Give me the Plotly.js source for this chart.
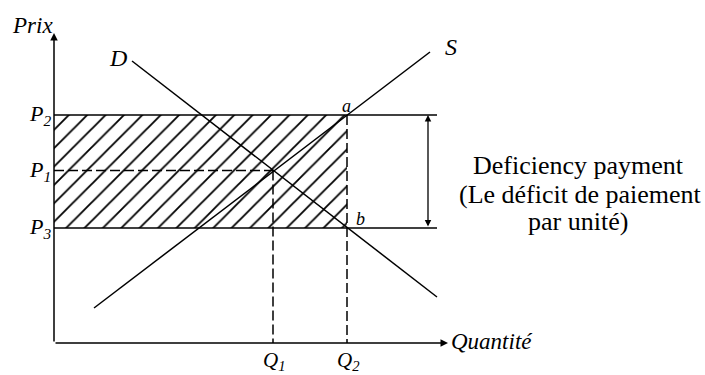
<!DOCTYPE html>
<html>
<head>
<meta charset="utf-8">
<script src="https://cdn.plot.ly/plotly-3.0.1.min.js"></script>
<style>
  html, body { margin: 0; padding: 0; background: #fff; }
  #chart { width: 705px; height: 375px; }
</style>
</head>
<body>
<div id="chart"></div>
<script>
// price levels (P2 support price, P1 equilibrium, P3 market price)
const priceLabels = ["P<sub>2</sub>", "P<sub>1</sub>", "P<sub>3</sub>"];
const priceValues = [22.8, 17.25, 11.5];

// quantities
const qtyLabels = ["Q<sub>1</sub>", "Q<sub>2</sub>"];
const qtyValues = [21.9, 29.3];

// demand and supply curves
const demandX = [7.8, 38.3];
const demandY = [28.2, 4.6];
const supplyX = [4.0, 37.6];
const supplyY = [3.5, 29.1];

// axis ends and bracket
const xAxisEnd = 39.4;
const yAxisEnd = 31.0;
const boundEnd = 38.3;
const bracketX = 37.4;

const P2 = priceValues[0], P1 = priceValues[1], P3 = priceValues[2];
const Q1 = qtyValues[0], Q2 = qtyValues[1];

const FONT = "Liberation Serif, Times New Roman, serif";
const black = "#000";
const dash = "10px,4px";

function seg(x, y, dashed) {
    return {
        x: x, y: y, mode: "lines", type: "scatter", hoverinfo: "skip",
        line: { color: black, width: 1.5, dash: dashed ? dash : "solid" },
        showlegend: false,
    };
}

let traces = [
    // hatched area
    {
        x: [0, Q2, Q2, 0, 0],
        y: [P3, P3, P2, P2, P3],
        type: "scatter", mode: "none", fill: "toself",
        fillcolor: "rgba(0,0,0,0)",
        fillpattern: { shape: "/", size: 13, solidity: 0.14, fgcolor: black, bgcolor: "#fff" },
        hoverinfo: "skip", showlegend: false,
    },
    seg([0, boundEnd], [P2, P2], false),
    seg([0, boundEnd], [P3, P3], false),
    seg([0, Q1], [P1, P1], true),
    seg([Q1, Q1], [P1, 0], true),
    seg([Q2, Q2], [P2, 0], true),
    seg(demandX, demandY, false),
    seg(supplyX, supplyY, false),
];

function label(text, x, y, size, opts) {
    return Object.assign({
        text: text, x: x, y: y, xref: "x", yref: "y", showarrow: false,
        font: { family: FONT, size: size, color: black },
    }, opts || {});
}

let annotations = [
    // axes with arrows
    { x: 0, y: yAxisEnd, ax: 0, ay: 0, xref: "x", yref: "y", axref: "x", ayref: "y",
      showarrow: true, arrowhead: 2, arrowsize: 1, arrowwidth: 1.5, arrowcolor: black, text: "" },
    { x: xAxisEnd, y: 0, ax: 0, ay: 0, xref: "x", yref: "y", axref: "x", ayref: "y",
      showarrow: true, arrowhead: 2, arrowsize: 1, arrowwidth: 1.5, arrowcolor: black, text: "" },
    // bracket double arrow
    { x: bracketX, y: P2, ax: bracketX, ay: P3, xref: "x", yref: "y", axref: "x", ayref: "y",
      showarrow: true, arrowhead: 2, arrowside: "end+start", arrowsize: 1, arrowwidth: 1.3,
      arrowcolor: black, text: "" },

    label("<i>Prix</i>", -2.2, 31.8, 23),
    label("<i>Quantité</i>", 39.5, 0.2, 23, { xanchor: "left" }),
    label("<i>D</i>", 6.4, 28.5, 24),
    label("<i>S</i>", 39.7, 29.6, 24),
    label("<i>a</i>", 29.2, 23.7, 18),
    label("<i>b</i>", 30.6, 12.4, 18),

    label("Deficiency payment", 52.4, 17.8, 26),
    label("(Le déficit de paiement", 52.6, 14.9, 26),
    label("par unité)", 52.4, 12.2, 26),
];

priceLabels.forEach((t, i) => {
    annotations.push(label("<i>" + t + "</i>", -0.1, priceValues[i], 22, { xanchor: "right" }));
});
qtyLabels.forEach((t, i) => {
    annotations.push(label("<i>" + t + "</i>", qtyValues[i] + 0.1, -1.75, 21));
});

const layout = {
    width: 705, height: 375,
    margin: { l: 0, r: 0, t: 0, b: 0 },
    paper_bgcolor: "#fff", plot_bgcolor: "#fff",
    xaxis: { range: [-5.4, 65.1], visible: false, fixedrange: true },
    yaxis: { range: [-3.2, 34.3], visible: false, fixedrange: true },
    annotations: annotations,
    showlegend: false,
};

Plotly.newPlot("chart", traces, layout, { staticPlot: true });
</script>
</body>
</html>
